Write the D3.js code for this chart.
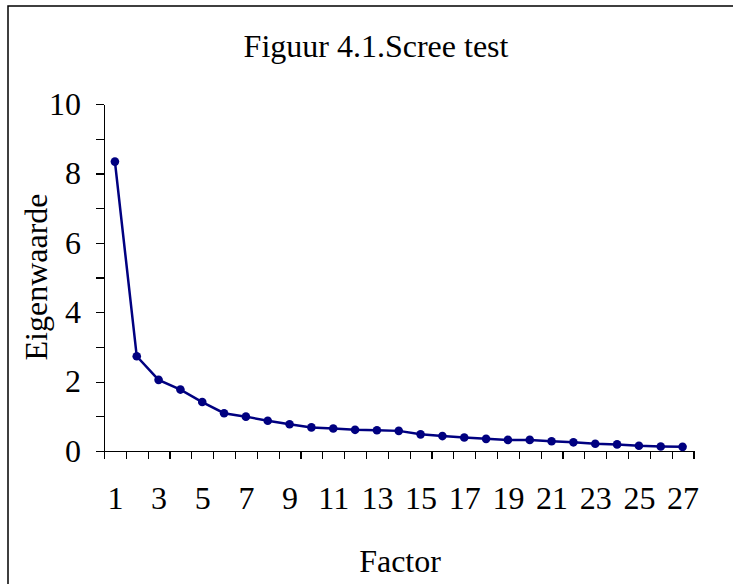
<!DOCTYPE html>
<html lang="nl">
<head>
<meta charset="UTF-8">
<title>Figuur 4.1.Scree test</title>
<script src="https://d3js.org/d3.v7.min.js"></script>
<style>
  body { margin: 0; background: #fff; }
  svg { display: block; font-family: "Liberation Serif", "Times New Roman", serif; }
  .axis path, .axis line { stroke: #000; stroke-width: 1.2; shape-rendering: crispEdges; }
  .axis text { font-family: "Liberation Serif", "Times New Roman", serif; font-size: 32px; fill: #000; }
</style>
</head>
<body>
<svg width="733" height="584"></svg>
<script>
// factors and their eigenvalues
const factors = d3.range(1, 28);
const eigenvalues = [8.34, 2.73, 2.05, 1.77, 1.41, 1.09, 0.99, 0.87, 0.77, 0.68,
                     0.65, 0.61, 0.60, 0.58, 0.48, 0.43, 0.39, 0.35, 0.32, 0.32,
                     0.28, 0.25, 0.21, 0.19, 0.15, 0.13, 0.12];
const xLabels = factors.filter(d => d % 2 === 1);
const yTicks = d3.range(0, 11);

const svg = d3.select("svg");

// outer frame (right and bottom edges fall outside the picture)
svg.append("rect")
    .attr("x", 8).attr("y", 6)
    .attr("width", 740).attr("height", 600)
    .attr("fill", "none").attr("stroke", "#000").attr("stroke-width", 1.5);

const plotLeft = 104, plotRight = 693.5, plotTop = 104, plotBottom = 451;

const x = d3.scaleLinear().domain([0.5, 27.5]).range([plotLeft, plotRight]);
const y = d3.scaleLinear().domain([0, 10]).range([plotBottom, plotTop]);

// y axis: ticks every 1, labels on even values
svg.append("g")
    .attr("class", "axis")
    .attr("transform", `translate(${plotLeft},0)`)
    .call(d3.axisLeft(y).tickValues(yTicks).tickSize(8).tickSizeOuter(0).tickPadding(15)
        .tickFormat(d => d % 2 === 0 ? d : ""));

// x axis: ticks on category boundaries
svg.append("g")
    .attr("class", "axis")
    .attr("transform", `translate(0,${plotBottom})`)
    .call(d3.axisBottom(x).tickValues(d3.range(0.5, 28, 1)).tickSize(8).tickSizeOuter(0).tickFormat(""));

// x labels on odd categories
const xl = svg.append("g")
    .attr("class", "axis")
    .attr("transform", `translate(0,${plotBottom})`)
    .call(d3.axisBottom(x).tickValues(xLabels).tickSize(0).tickPadding(35).tickFormat(d3.format("d")));
xl.select(".domain").remove();

// line + markers
const line = d3.line().x((d, i) => x(factors[i])).y(d => y(d));
svg.append("path")
    .datum(eigenvalues)
    .attr("d", line)
    .attr("fill", "none")
    .attr("stroke", "#000080")
    .attr("stroke-width", 2.5);

svg.selectAll("circle.pt")
    .data(eigenvalues)
    .enter().append("circle")
    .attr("class", "pt")
    .attr("cx", (d, i) => x(factors[i]))
    .attr("cy", d => y(d))
    .attr("r", 4.3)
    .attr("fill", "#000080");

// titles
svg.append("text")
    .attr("x", 376).attr("y", 57)
    .attr("text-anchor", "middle")
    .attr("font-size", 32)
    .text("Figuur 4.1.Scree test");

svg.append("text")
    .attr("x", 400).attr("y", 572)
    .attr("text-anchor", "middle")
    .attr("font-size", 32)
    .text("Factor");

svg.append("text")
    .attr("transform", "translate(47,277) rotate(-90)")
    .attr("text-anchor", "middle")
    .attr("font-size", 32)
    .text("Eigenwaarde");
</script>
</body>
</html>
